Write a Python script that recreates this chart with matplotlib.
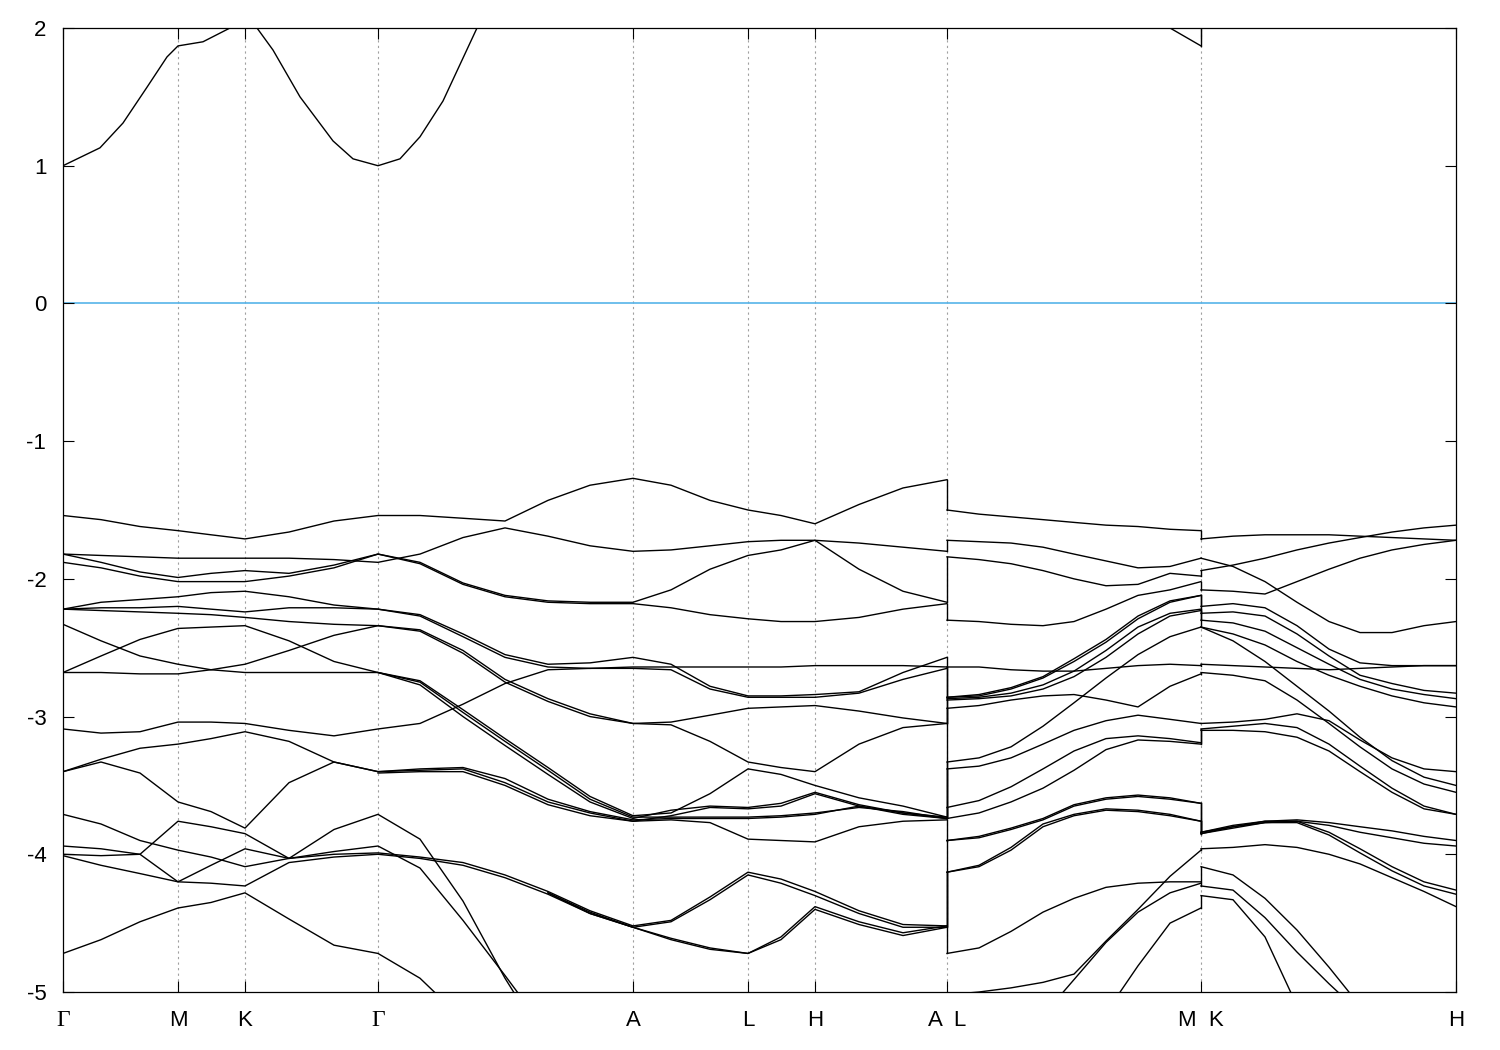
import matplotlib
matplotlib.use("Agg")
import matplotlib.pyplot as plt
import numpy as np

plt.rcParams['font.family'] = ['Liberation Sans', 'DejaVu Sans']
plt.rcParams['axes.unicode_minus'] = False

nan = float('nan')

# k-path distances (arbitrary units) for the three plotted pieces
k_gamma_a = [0, 38, 77, 115, 148, 182, 226, 271, 315, 357, 400, 442, 485, 527, 570, 608, 647, 685, 718, 752, 796, 840, 884]
k_l_m = [884, 916, 948, 980, 1011, 1043, 1075, 1107, 1138]
k_k_h = [1138, 1170, 1202, 1234, 1266, 1297, 1329, 1361, 1393]

tick_pos = [0, 115, 182, 315, 570, 685, 752, 884, 1138, 1393]
tick_lab = ["Γ", "M", "K", "Γ", "A", "L", "H", "A  L", "M  K", "H"]

# lowest conduction band on Γ-M-K-Γ-A (read on a finer set of points)
k_cond = [0, 37, 60, 84, 104, 115, 140, 167, 182, 194, 210, 237, 270, 290, 315, 337, 357, 380, 414, 442]
e_cond = [1.00, 1.13, 1.31, 1.57, 1.79, 1.87, 1.90, 2.00, 2.05, 2.00, 1.84, 1.50, 1.18, 1.05, 1.00, 1.05, 1.21, 1.47, 2.00, 2.30]

# valence energies (eV) read along Γ-M-K-Γ-A-L-H-A
bands_gamma_a = [
    [-1.54, -1.57, -1.62, -1.65, -1.68, -1.71, -1.66, -1.58, -1.54, -1.54, -1.56, -1.58, -1.43, -1.32, -1.27, -1.32, -1.43, -1.50, -1.54, -1.60, -1.46, -1.34, -1.28],
    [-1.82, -1.83, -1.84, -1.85, -1.85, -1.85, -1.85, -1.86, -1.88, -1.82, -1.70, -1.63, -1.69, -1.76, -1.80, -1.79, -1.76, -1.73, -1.72, -1.72, -1.74, -1.77, -1.80],
    [-1.82, -1.88, -1.95, -1.99, -1.96, -1.94, -1.96, -1.90, -1.82, -1.88, -2.03, -2.12, -2.16, -2.17, -2.17, -2.08, -1.93, -1.83, -1.79, -1.72, -1.93, -2.09, -2.17],
    [-1.88, -1.92, -1.98, -2.02, -2.02, -2.02, -1.98, -1.92, -1.82, -1.89, -2.04, -2.13, -2.17, -2.18, -2.18, -2.21, -2.26, -2.29, -2.31, -2.31, -2.28, -2.22, -2.18],
    [-2.22, -2.17, -2.15, -2.13, -2.10, -2.09, -2.13, -2.19, -2.22, -2.26, -2.40, -2.55, -2.62, -2.61, -2.57, -2.62, -2.78, -2.85, -2.85, -2.84, -2.82, -2.68, -2.57],
    [-2.22, -2.21, -2.21, -2.20, -2.22, -2.24, -2.21, -2.21, -2.22, -2.27, -2.42, -2.57, -2.64, -2.65, -2.65, -2.66, -2.80, -2.86, -2.86, -2.86, -2.83, -2.73, -2.65],
    [-2.22, -2.23, -2.24, -2.25, -2.26, -2.28, -2.31, -2.33, -2.34, -2.38, -2.54, -2.75, -2.89, -3.00, -3.05, -3.06, -3.18, -3.33, -3.37, -3.40, -3.20, -3.08, -3.05],
    [-2.68, -2.68, -2.69, -2.69, -2.66, -2.62, -2.52, -2.41, -2.34, -2.37, -2.52, -2.73, -2.87, -2.98, -3.05, -3.04, -2.99, -2.94, -2.93, -2.92, -2.96, -3.01, -3.05],
    [-2.68, -2.56, -2.44, -2.36, -2.35, -2.34, -2.45, -2.60, -2.68, -2.74, -2.95, -3.16, -3.37, -3.58, -3.72, -3.70, -3.56, -3.38, -3.42, -3.50, -3.59, -3.65, -3.73],
    [-2.33, -2.45, -2.56, -2.62, -2.66, -2.68, -2.68, -2.68, -2.68, -2.77, -3.00, -3.21, -3.42, -3.62, -3.74, -3.68, -3.65, -3.66, -3.63, -3.55, -3.64, -3.70, -3.73],
    [nan, nan, nan, nan, nan, nan, nan, nan, -2.68, -2.75, -2.97, -3.18, -3.39, -3.60, -3.73, -3.73, -3.73, -3.73, -3.72, -3.70, -3.66, -3.69, -3.74],
    [-3.09, -3.12, -3.11, -3.04, -3.04, -3.05, -3.10, -3.14, -3.09, -3.05, -2.91, -2.76, -2.66, -2.65, -2.64, -2.64, -2.64, -2.64, -2.64, -2.63, -2.63, -2.63, -2.64],
    [-3.40, -3.31, -3.23, -3.20, -3.16, -3.11, -3.18, -3.33, -3.40, -3.38, -3.37, -3.45, -3.60, -3.69, -3.75, -3.74, -3.74, -3.74, -3.73, -3.71, -3.65, -3.70, -3.74],
    [-3.40, -3.33, -3.41, -3.62, -3.69, -3.81, -3.48, -3.33, -3.40, -3.39, -3.38, -3.48, -3.62, -3.70, -3.76, -3.75, -3.77, -3.89, -3.90, -3.91, -3.80, -3.76, -3.75],
    [nan, nan, nan, nan, nan, nan, nan, nan, -3.41, -3.40, -3.40, -3.50, -3.64, -3.72, -3.76, -3.72, -3.66, -3.67, -3.65, -3.56, -3.65, -3.71, -3.74],
    [-3.71, -3.78, -3.90, -3.97, -4.02, -4.09, -4.03, -3.82, -3.71, -3.89, -4.34, -4.90, -5.40, nan, nan, nan, nan, nan, nan, nan, nan, nan, nan],
    [-3.94, -3.96, -4.00, -4.20, -4.08, -3.96, -4.03, -3.98, -3.94, -4.10, -4.48, -4.88, -5.30, nan, nan, nan, nan, nan, nan, nan, nan, nan, nan],
    [-4.00, -4.01, -4.00, -3.76, -3.80, -3.85, -4.03, -4.00, -3.99, -4.02, -4.06, -4.15, -4.27, -4.41, -4.52, -4.48, -4.31, -4.13, -4.18, -4.27, -4.41, -4.51, -4.52],
    [-4.01, -4.08, -4.14, -4.20, -4.21, -4.23, -4.06, -4.02, -4.00, -4.03, -4.08, -4.17, -4.29, -4.43, -4.53, -4.61, -4.68, -4.72, -4.60, -4.38, -4.49, -4.57, -4.52],
    [nan, nan, nan, nan, nan, nan, nan, nan, nan, nan, nan, nan, -4.28, -4.42, -4.53, -4.49, -4.33, -4.15, -4.21, -4.30, -4.43, -4.53, -4.53],
    [nan, nan, nan, nan, nan, nan, nan, nan, nan, nan, nan, nan, -4.28, -4.43, -4.53, -4.62, -4.69, -4.72, -4.62, -4.40, -4.51, -4.59, -4.53],
    [-4.72, -4.62, -4.49, -4.39, -4.35, -4.28, -4.47, -4.66, -4.72, -4.90, -5.20, nan, nan, nan, nan, nan, nan, nan, nan, nan, nan, nan, nan],
]

# L-M
bands_l_m = [
    [nan, nan, nan, nan, nan, nan, 2.25, 2.00, 1.87],
    [-1.50, -1.53, -1.55, -1.57, -1.59, -1.61, -1.62, -1.64, -1.65],
    [-1.72, -1.73, -1.74, -1.77, -1.82, -1.87, -1.92, -1.91, -1.85],
    [-1.84, -1.86, -1.89, -1.94, -2.00, -2.05, -2.04, -1.96, -1.98],
    [-2.30, -2.31, -2.33, -2.34, -2.31, -2.22, -2.12, -2.08, -2.02],
    [-2.64, -2.64, -2.66, -2.67, -2.67, -2.65, -2.63, -2.62, -2.63],
    [-2.86, -2.84, -2.79, -2.71, -2.58, -2.44, -2.27, -2.16, -2.12],
    [-2.86, -2.85, -2.80, -2.72, -2.60, -2.46, -2.29, -2.17, -2.12],
    [-2.87, -2.86, -2.83, -2.77, -2.67, -2.52, -2.35, -2.25, -2.22],
    [-2.88, -2.87, -2.85, -2.80, -2.71, -2.57, -2.40, -2.27, -2.23],
    [-2.94, -2.92, -2.88, -2.85, -2.84, -2.88, -2.93, -2.78, -2.69],
    [-3.33, -3.30, -3.22, -3.07, -2.90, -2.72, -2.55, -2.42, -2.35],
    [-3.38, -3.36, -3.30, -3.20, -3.10, -3.03, -2.99, -3.02, -3.05],
    [-3.66, -3.61, -3.51, -3.38, -3.25, -3.16, -3.14, -3.16, -3.19],
    [-3.74, -3.70, -3.62, -3.52, -3.39, -3.24, -3.17, -3.18, -3.20],
    [-3.90, -3.87, -3.81, -3.74, -3.64, -3.59, -3.57, -3.59, -3.63],
    [-3.90, -3.88, -3.82, -3.75, -3.65, -3.60, -3.58, -3.60, -3.63],
    [-4.13, -4.08, -3.95, -3.78, -3.71, -3.67, -3.68, -3.71, -3.76],
    [-4.13, -4.09, -3.97, -3.80, -3.72, -3.68, -3.69, -3.72, -3.76],
    [-4.72, -4.68, -4.56, -4.42, -4.32, -4.24, -4.21, -4.20, -4.20],
    [-5.02, -5.00, -4.97, -4.93, -4.87, -4.63, -4.40, -4.16, -3.97],
    [nan, nan, nan, -5.17, -4.91, -4.64, -4.42, -4.28, -4.21],
    [nan, nan, nan, nan, nan, -5.15, -4.81, -4.50, -4.39],
]

# K-H
bands_k_h = [
    [2.05, 2.12, nan, nan, nan, nan, nan, nan, nan],
    [-1.71, -1.69, -1.68, -1.68, -1.68, -1.69, -1.70, -1.71, -1.72],
    [-1.94, -1.90, -1.85, -1.79, -1.74, -1.70, -1.66, -1.63, -1.61],
    [-1.85, -1.91, -2.02, -2.17, -2.31, -2.39, -2.39, -2.34, -2.31],
    [-2.08, -2.09, -2.11, -2.02, -1.93, -1.85, -1.79, -1.75, -1.72],
    [-2.20, -2.18, -2.21, -2.34, -2.51, -2.61, -2.63, -2.63, -2.63],
    [-2.25, -2.24, -2.27, -2.40, -2.56, -2.70, -2.76, -2.81, -2.83],
    [-2.30, -2.32, -2.38, -2.50, -2.62, -2.73, -2.80, -2.84, -2.87],
    [-2.35, -2.45, -2.60, -2.78, -2.96, -3.15, -3.32, -3.44, -3.50],
    [-2.35, -2.40, -2.48, -2.60, -2.70, -2.78, -2.85, -2.90, -2.93],
    [-2.62, -2.63, -2.64, -2.65, -2.66, -2.65, -2.64, -2.63, -2.63],
    [-2.68, -2.70, -2.74, -2.88, -3.05, -3.22, -3.38, -3.49, -3.55],
    [-3.05, -3.04, -3.02, -2.98, -3.03, -3.17, -3.30, -3.38, -3.40],
    [-3.09, -3.07, -3.05, -3.08, -3.20, -3.36, -3.52, -3.65, -3.71],
    [-3.10, -3.10, -3.11, -3.15, -3.25, -3.40, -3.55, -3.67, -3.71],
    [-3.84, -3.79, -3.76, -3.75, -3.77, -3.80, -3.83, -3.87, -3.90],
    [-3.85, -3.80, -3.77, -3.76, -3.79, -3.84, -3.88, -3.92, -3.94],
    [-3.84, -3.80, -3.76, -3.76, -3.84, -3.96, -4.09, -4.20, -4.26],
    [-3.85, -3.81, -3.77, -3.77, -3.86, -3.99, -4.12, -4.23, -4.29],
    [-3.96, -3.95, -3.93, -3.95, -4.00, -4.07, -4.17, -4.27, -4.38],
    [-4.09, -4.15, -4.32, -4.55, -4.82, -5.10, nan, nan, nan],
    [-4.23, -4.26, -4.46, -4.71, -4.94, -5.15, nan, nan, nan],
    [-4.30, -4.33, -4.60, -5.10, nan, nan, nan, nan, nan],
]

fig = plt.figure(figsize=(15, 10.5), dpi=100)
ax = fig.add_axes([63 / 1500, 58 / 1050, 1393 / 1500, 964 / 1050])

# dotted lines at the high-symmetry points
for t in tick_pos[1:-1]:
    ax.axvline(t, color='#a0a0a0', lw=0.8, ls=(0, (2, 3)), zorder=0)

ax.axhline(0, color='#56b4e9', lw=1.2, zorder=1)

ax.plot(k_cond, e_cond, color='black', lw=1.0, zorder=2)
for kk, group in [(k_gamma_a, bands_gamma_a), (k_l_m, bands_l_m), (k_k_h, bands_k_h)]:
    for b in group:
        ax.plot(kk, b, color='black', lw=1.0, zorder=2)


# jumps where the path breaks (A|L and M|K): bands joined in energy order
def join(k, left, right):
    lv = sorted([b[-1] for b in left if np.isfinite(b[-1])], reverse=True)
    rv = sorted([b[0] for b in right if np.isfinite(b[0])], reverse=True)
    for a, c in zip(lv, rv):
        ax.plot([k, k], [a, c], color='black', lw=1.0, zorder=2)


join(k_l_m[0], bands_gamma_a, bands_l_m)
join(k_k_h[0], bands_l_m, bands_k_h)

ax.set_xlim(0, 1393)
ax.set_ylim(-5, 2)
ax.set_yticks(range(-5, 3))
ax.set_yticklabels([str(v) for v in range(-5, 3)])
ax.set_xticks(tick_pos)
ax.set_xticklabels(tick_lab)
ax.tick_params(direction='in', length=8, width=0.8, top=True, right=True,
               labelsize=16, colors='black')
ax.tick_params(axis='y', pad=12)
ax.tick_params(axis='x', pad=13)
for lab in ax.get_xticklabels():
    if lab.get_text() == "Γ":
        lab.set_fontfamily(['Liberation Serif', 'DejaVu Serif'])
        lab.set_fontsize(17)
for s in ax.spines.values():
    s.set_linewidth(0.9)

plt.savefig("out.png", dpi=100)
